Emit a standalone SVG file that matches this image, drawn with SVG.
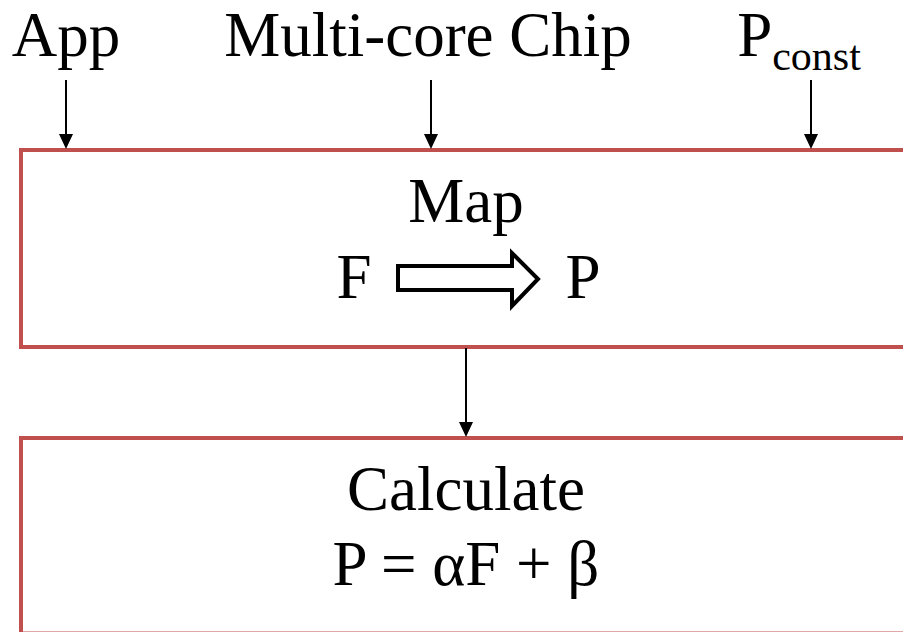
<svg xmlns="http://www.w3.org/2000/svg" width="903" height="632" viewBox="0 0 903 632">
<style>
.box{fill:#fff;stroke:#C0504D;stroke-width:4}
.t{font-family:"Times New Roman","Liberation Serif",serif;font-size:63px;fill:#000;text-anchor:middle}
.c{stroke:#000;stroke-width:2;fill:none}
.ah{fill:#000}
</style>
<g id="labels">
<text class="t" x="66" y="56">App</text>
<text class="t" x="428" y="56">Multi-core Chip</text>
<text class="t" x="799" y="56">P<tspan font-size="42" dy="14">const</tspan></text>
</g>
<g id="map">
<rect class="box" x="21" y="150" width="900" height="197"/>
<text class="t" x="466" y="222">Map</text>
<text class="t" x="354" y="298">F</text>
<text class="t" x="583" y="298">P</text>
<path d="M398,266 L512,266 L512,253 L538,279 L512,306 L512,290 L398,290 Z" fill="#fff" stroke="#000" stroke-width="4"/>
</g>
<g id="calculate">
<rect class="box" x="21" y="438" width="900" height="195.5"/>
<text class="t" x="466" y="510">Calculate</text>
<text class="t" x="466" y="585">P = αF + β</text>
</g>
<g id="connectors">
<line class="c" x1="66" y1="80" x2="66" y2="140"/>
<path class="ah" d="M59,134 L73,134 L66,149 Z"/>
<line class="c" x1="431" y1="80" x2="431" y2="140"/>
<path class="ah" d="M424,134 L438,134 L431,149 Z"/>
<line class="c" x1="811" y1="80" x2="811" y2="140"/>
<path class="ah" d="M804,134 L818,134 L811,149 Z"/>
<line class="c" x1="466" y1="348" x2="466" y2="428"/>
<path class="ah" d="M459,422 L473,422 L466,437 Z"/>
</g>
</svg>
